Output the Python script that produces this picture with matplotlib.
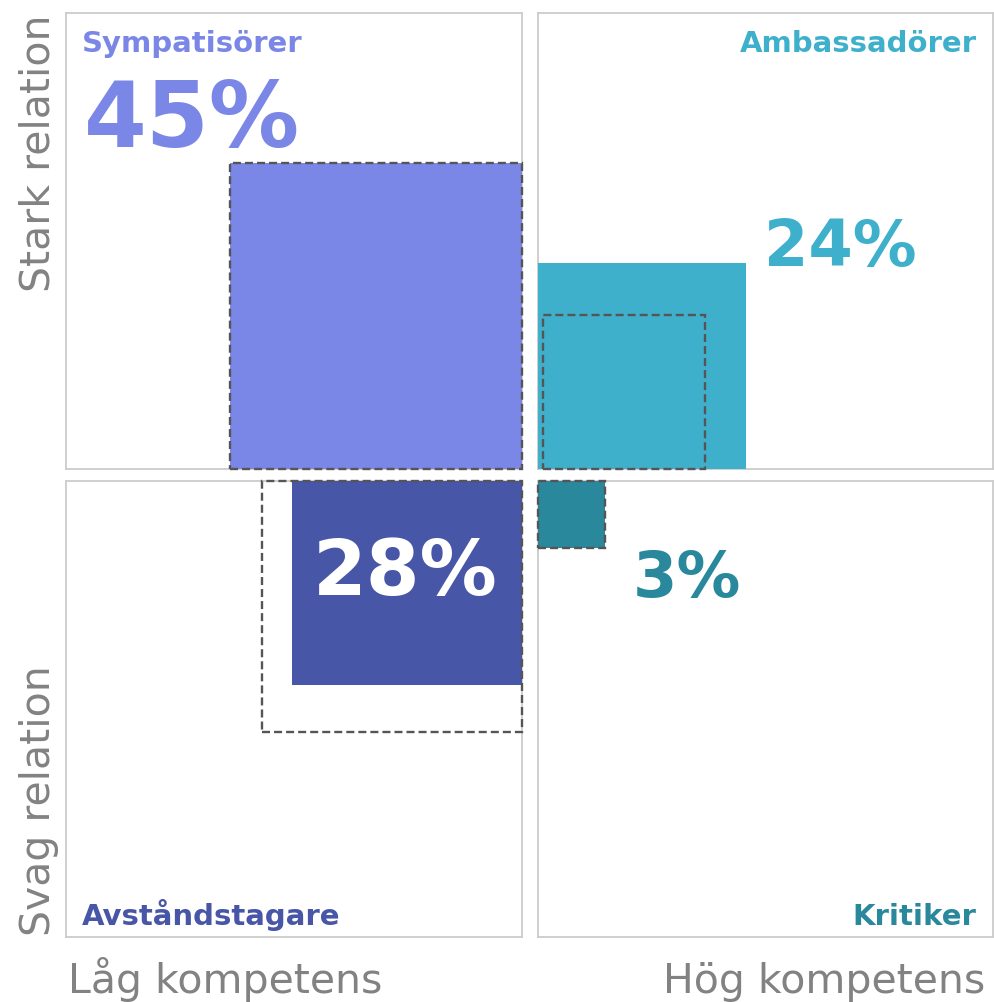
import matplotlib
matplotlib.use("Agg")
import matplotlib.pyplot as plt
from matplotlib.patches import Rectangle

# ---- data ----
segments = ["Sympatisörer", "Ambassadörer", "Avståndstagare", "Kritiker"]
shares = [45, 24, 28, 3]
# size of current square (fraction of quadrant) width / height
current_w = [0.640, 0.458, 0.504, 0.147]
current_h = [0.671, 0.452, 0.447, 0.147]
# size of previous (dashed) outline
previous_w = [0.640, 0.357, 0.570, 0.147]
previous_h = [0.671, 0.338, 0.550, 0.147]
x_labels = ["Låg kompetens", "Hög kompetens"]
y_labels = ["Stark relation", "Svag relation"]

colors = ["#7B87E6", "#3FB0CC", "#4756A6", "#2A889C"]
gray = "#828282"

W, H = 994, 1003
fig = plt.figure(figsize=(W / 100, H / 100), dpi=100)
plt.rcParams['font.family'] = ['DejaVu Sans']

def px_axes(x0, y_top, w, h):
    return fig.add_axes([x0 / W, (H - y_top - h) / H, w / W, h / H])

panel_pos = [(66, 14), (538, 14), (66, 482), (538, 482)]
size = 456
# corner anchoring: (x anchor, y anchor) of the square in axes coords, and direction
anchors = [(1, 0, -1, 1), (0, 0, 1, 1), (1, 1, -1, -1), (0, 1, 1, -1)]
dash_inset = [0, 5 / size, 0, 0]

axes = []
for i, (px, py) in enumerate(panel_pos):
    ax = px_axes(px, py, size if i % 2 == 0 else size - 1, size)
    ax.set_xlim(0, 1)
    ax.set_ylim(0, 1)
    ax.set_xticks([])
    ax.set_yticks([])
    for sp in ax.spines.values():
        sp.set_color("#cccccc")
        sp.set_linewidth(1.3)
    axes.append(ax)

    xa, ya, dx, dy = anchors[i]
    cw, ch = current_w[i], current_h[i]
    pw, ph = previous_w[i], previous_h[i]
    x0 = xa if dx > 0 else xa - cw
    y0 = ya if dy > 0 else ya - ch
    ax.add_patch(Rectangle((x0, y0), cw, ch, facecolor=colors[i], edgecolor="none",
                           zorder=3, clip_on=False))
    px0 = xa + dash_inset[i] if dx > 0 else xa - pw
    py0 = ya if dy > 0 else ya - ph
    ax.add_patch(Rectangle((px0, py0), pw, ph, facecolor="none", edgecolor="#555555",
                           linewidth=1.7, linestyle=(0, (3.4, 1.7)), zorder=4, clip_on=False))

# segment names
fs_seg = 21
axes[0].text(16 / size, (470 - 52) / size, segments[0], color=colors[0], fontsize=fs_seg,
             fontweight="bold", ha="left", va="baseline")
axes[1].text((978 - 538) / size, (470 - 52) / size, segments[1], color=colors[1], fontsize=fs_seg,
             fontweight="bold", ha="right", va="baseline")
axes[2].text(16 / size, (938 - 925) / size, segments[2], color=colors[2], fontsize=fs_seg,
             fontweight="bold", ha="left", va="baseline")
axes[3].text((977 - 538) / size, (938 - 925) / size, segments[3], color=colors[3], fontsize=fs_seg,
             fontweight="bold", ha="right", va="baseline")

# share labels
axes[0].text(18 / size, (470 - 147) / size, f"{shares[0]}%", color=colors[0], fontsize=65,
             fontweight="bold", ha="left", va="baseline")
axes[1].text(current_w[1] + 18 / size, (470 - 266) / size, f"{shares[1]}%", color=colors[1],
             fontsize=46, fontweight="bold", ha="left", va="baseline")
axes[2].text((405 - 66) / size, (938 - 595) / size, f"{shares[2]}%", color="white", fontsize=55.5,
             fontweight="bold", ha="center", va="baseline", zorder=5)
axes[3].text((633 - 538) / size, (938 - 597) / size, f"{shares[3]}%", color=colors[3], fontsize=46,
             fontweight="bold", ha="left", va="baseline")

# axis labels
fs_ax = 29.5
fig.text(68 / W, 1 - 993 / H, x_labels[0], color=gray, fontsize=fs_ax, ha="left", va="baseline")
fig.text(985 / W, 1 - 993 / H, x_labels[1], color=gray, fontsize=fs_ax, ha="right", va="baseline")
fig.text(50 / W, 1 - 15 / H, y_labels[0], color=gray, fontsize=fs_ax, rotation=90,
         rotation_mode="anchor", ha="right", va="baseline")
fig.text(50 / W, 1 - 936 / H, y_labels[1], color=gray, fontsize=fs_ax, rotation=90,
         rotation_mode="anchor", ha="left", va="baseline")

fig.savefig("out.png", dpi=100)
